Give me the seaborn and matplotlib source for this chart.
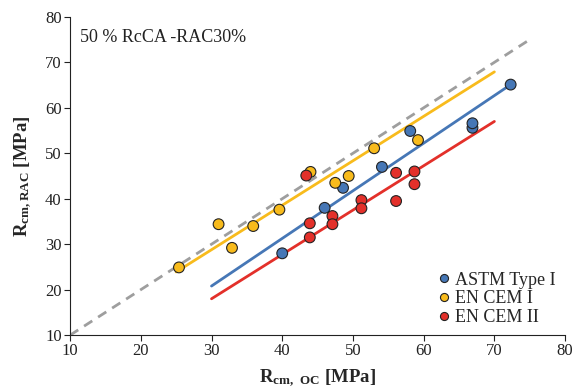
import numpy as np
import pandas as pd
import matplotlib
matplotlib.use("Agg")
import matplotlib.pyplot as plt
import seaborn as sns

# ---- data ----
astm_x = [40.0, 46.0, 48.6, 54.1, 58.1, 66.9, 66.9, 72.3]
astm_y = [28.0, 38.0, 42.4, 47.0, 54.9, 55.6, 56.6, 65.1]
cem1_x = [25.4, 31.0, 32.9, 35.9, 39.6, 44.0, 47.5, 49.4, 53.0, 59.2]
cem1_y = [24.9, 34.4, 29.2, 34.0, 37.6, 45.9, 43.5, 45.0, 51.1, 52.9]
cem2_x = [43.4, 43.9, 43.9, 47.1, 47.1, 51.2, 51.2, 56.1, 56.1, 58.7, 58.7]
cem2_y = [45.1, 34.6, 31.5, 36.2, 34.4, 39.7, 37.9, 39.5, 45.7, 46.0, 43.2]

# trend line endpoints
fit_astm_x = [30.0, 72.3]
fit_astm_y = [20.8, 65.1]
fit_cem1_x = [25.0, 70.0]
fit_cem1_y = [23.9, 67.9]
fit_cem2_x = [30.0, 70.0]
fit_cem2_y = [18.0, 57.0]
ident_x = [10, 75]
ident_y = [10, 75]

series = ["ASTM Type I", "EN CEM I", "EN CEM II"]
colors = ["#4677b6", "#f8bb1c", "#e3302a"]

sns.set_style("ticks")
plt.rcParams["font.family"] = ["Liberation Serif", "DejaVu Serif"]
plt.rcParams["mathtext.fontset"] = "custom"
plt.rcParams["mathtext.rm"] = "Liberation Serif"
plt.rcParams["mathtext.bf"] = "Liberation Serif:bold"

df = pd.DataFrame({
    "x": astm_x + cem1_x + cem2_x,
    "y": astm_y + cem1_y + cem2_y,
    "s": [series[0]] * len(astm_x) + [series[1]] * len(cem1_x) + [series[2]] * len(cem2_x),
})
lines = pd.DataFrame({
    "x": fit_astm_x + fit_cem1_x + fit_cem2_x,
    "y": fit_astm_y + fit_cem1_y + fit_cem2_y,
    "s": [series[0]] * 2 + [series[1]] * 2 + [series[2]] * 2,
})

fig = plt.figure(figsize=(5.79, 3.92), dpi=100)
ax = fig.add_axes([0.121, 0.145, 0.855, 0.812])

ax.plot(ident_x, ident_y, color="#9e9e9e", lw=2, ls=(0, (3.5, 2.5)), zorder=1)
sns.lineplot(data=lines, x="x", y="y", hue="s", palette=colors, hue_order=series,
             lw=2, legend=False, ax=ax, zorder=2, estimator=None, sort=False)
sns.scatterplot(data=df, x="x", y="y", hue="s", palette=colors, hue_order=series,
                s=60, edgecolor="#222222", linewidth=0.8, ax=ax, zorder=3)

ax.set_xlim(10, 80)
ax.set_ylim(10, 80)
ax.set_xticks(range(10, 81, 10))
ax.set_yticks(range(10, 81, 10))
ax.tick_params(axis="both", labelsize=12, direction="out", length=4, width=0.8,
               colors="#222222", pad=2)
for sp in ["left", "bottom"]:
    ax.spines[sp].set_linewidth(0.8)
    ax.spines[sp].set_color("#222222")
sns.despine(ax=ax)

ax.set_xlabel(r"$\mathbf{R_{cm,\ OC}}$ $\mathbf{[MPa]}$", fontsize=13.5, labelpad=6)
ax.set_ylabel(r"$\mathbf{R_{cm,RAC}}$ $\mathbf{[MPa]}$", fontsize=13.5, labelpad=8)

ax.text(0.02, 0.935, "50 % RcCA -RAC30%", transform=ax.transAxes, fontsize=13,
        va="center", ha="left", color="#222222")

leg = ax.legend(loc="lower right", bbox_to_anchor=(1.0, 0.0), frameon=False, fontsize=13,
                handletextpad=0.05, labelspacing=0.1, borderaxespad=0.1,
                handlelength=1.2, markerscale=0.75)
for h in leg.legend_handles:
    h.set_markeredgecolor("#222222")
    h.set_markeredgewidth(0.8)

fig.savefig("out.png", dpi=100)
